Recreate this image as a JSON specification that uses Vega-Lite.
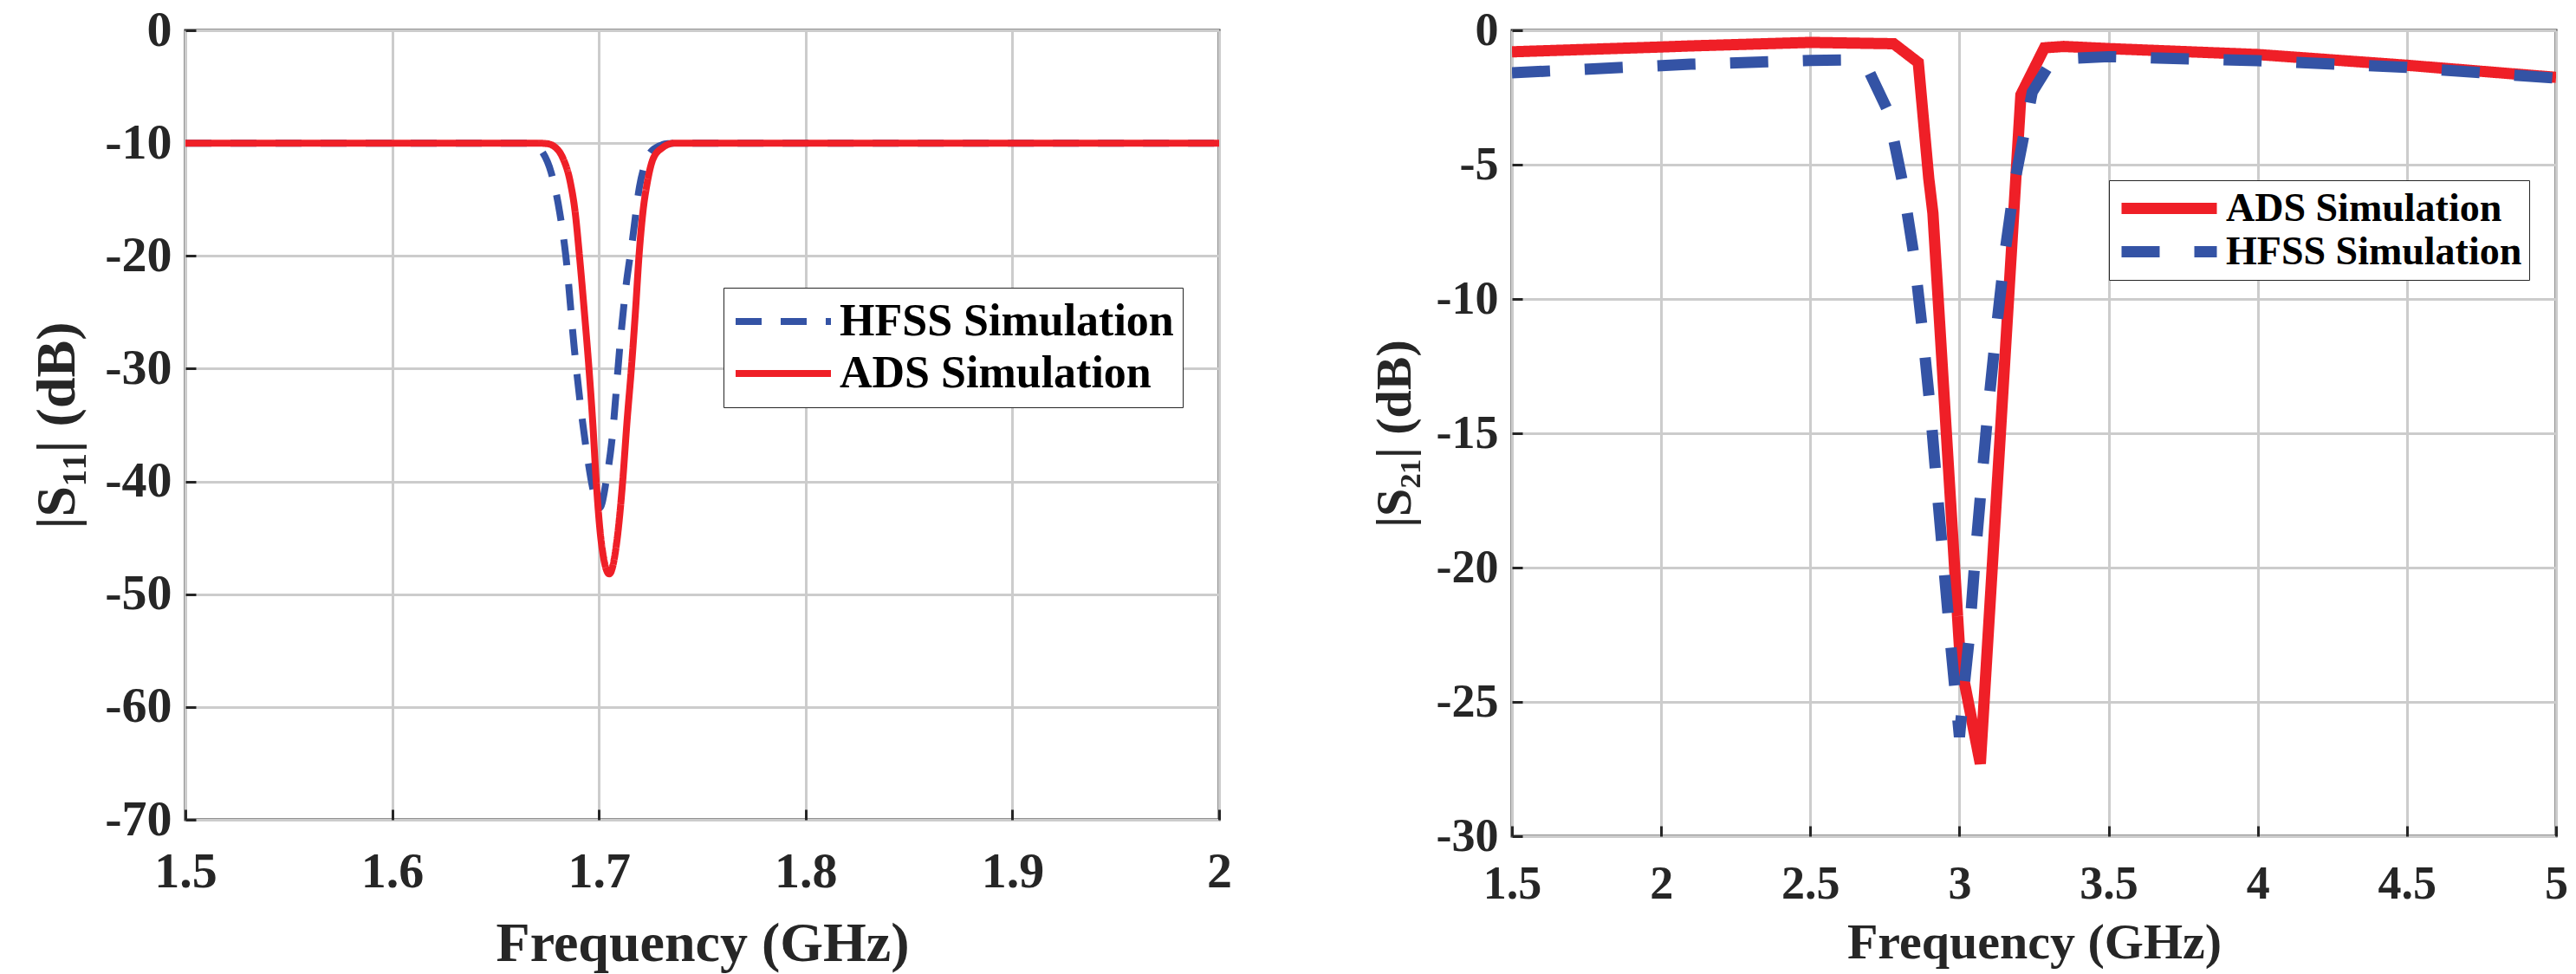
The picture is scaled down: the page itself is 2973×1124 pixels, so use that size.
{
  "$schema": "https://vega.github.io/schema/vega-lite/v6.json",
  "background": "white",
  "padding": {"left": 33, "top": 4, "right": 10, "bottom": 5},
  "spacing": 156,
  "config": {
    "font": "Liberation Serif",
    "view": {"stroke": "#262626", "strokeWidth": 3},
    "axis": {
      "labelFont": "Liberation Serif", "labelFontWeight": "bold", "labelColor": "#262626",
      "titleFont": "Liberation Serif", "titleFontWeight": "bold", "titleColor": "#262626",
      "gridColor": "#cccccc", "gridWidth": 3, "gridOpacity": 1,
      "domain": false, "tickColor": "#262626", "tickWidth": 3, "tickSize": -12,
      "labelExpr": "replace(datum.label, '−', '-')"
    }
  },
  "resolve": {
    "scale": {"color": "independent", "strokeDash": "independent"},
    "legend": {"color": "independent", "strokeDash": "independent"}
  },
  "hconcat": [
    {
      "width": 1193,
      "height": 911,
      "data": {"values": [
        {"f": 1.5, "v": -10, "s": "HFSS Simulation"},
        {"f": 1.6, "v": -10, "s": "HFSS Simulation"},
        {"f": 1.665, "v": -10, "s": "HFSS Simulation"},
        {"f": 1.669, "v": -10.2, "s": "HFSS Simulation"},
        {"f": 1.6727, "v": -10.8, "s": "HFSS Simulation"},
        {"f": 1.6769, "v": -12.6, "s": "HFSS Simulation"},
        {"f": 1.681, "v": -16.1, "s": "HFSS Simulation"},
        {"f": 1.684, "v": -20, "s": "HFSS Simulation"},
        {"f": 1.6882, "v": -28.4, "s": "HFSS Simulation"},
        {"f": 1.691, "v": -33.1, "s": "HFSS Simulation"},
        {"f": 1.6945, "v": -37.9, "s": "HFSS Simulation"},
        {"f": 1.6975, "v": -41, "s": "HFSS Simulation"},
        {"f": 1.7005, "v": -42.3, "s": "HFSS Simulation"},
        {"f": 1.7035, "v": -40, "s": "HFSS Simulation"},
        {"f": 1.7062, "v": -36.5, "s": "HFSS Simulation"},
        {"f": 1.7104, "v": -27.5, "s": "HFSS Simulation"},
        {"f": 1.7129, "v": -23, "s": "HFSS Simulation"},
        {"f": 1.7163, "v": -18.5, "s": "HFSS Simulation"},
        {"f": 1.7196, "v": -13.9, "s": "HFSS Simulation"},
        {"f": 1.723, "v": -11.5, "s": "HFSS Simulation"},
        {"f": 1.7267, "v": -10.5, "s": "HFSS Simulation"},
        {"f": 1.7334, "v": -10.05, "s": "HFSS Simulation"},
        {"f": 1.74, "v": -10, "s": "HFSS Simulation"},
        {"f": 1.8, "v": -10, "s": "HFSS Simulation"},
        {"f": 2.0, "v": -10, "s": "HFSS Simulation"},
        {"f": 1.5, "v": -10, "s": "ADS Simulation"},
        {"f": 1.6, "v": -10, "s": "ADS Simulation"},
        {"f": 1.67, "v": -10, "s": "ADS Simulation"},
        {"f": 1.6749, "v": -10.05, "s": "ADS Simulation"},
        {"f": 1.6791, "v": -10.4, "s": "ADS Simulation"},
        {"f": 1.6825, "v": -11.3, "s": "ADS Simulation"},
        {"f": 1.6862, "v": -13.5, "s": "ADS Simulation"},
        {"f": 1.6885, "v": -16.1, "s": "ADS Simulation"},
        {"f": 1.6906, "v": -20, "s": "ADS Simulation"},
        {"f": 1.6928, "v": -24.6, "s": "ADS Simulation"},
        {"f": 1.6952, "v": -30, "s": "ADS Simulation"},
        {"f": 1.697, "v": -34.7, "s": "ADS Simulation"},
        {"f": 1.6987, "v": -40, "s": "ADS Simulation"},
        {"f": 1.7011, "v": -45.3, "s": "ADS Simulation"},
        {"f": 1.705, "v": -48.2, "s": "ADS Simulation"},
        {"f": 1.7087, "v": -45.3, "s": "ADS Simulation"},
        {"f": 1.7115, "v": -40, "s": "ADS Simulation"},
        {"f": 1.7136, "v": -34.7, "s": "ADS Simulation"},
        {"f": 1.7157, "v": -30, "s": "ADS Simulation"},
        {"f": 1.7178, "v": -24.6, "s": "ADS Simulation"},
        {"f": 1.7194, "v": -20, "s": "ADS Simulation"},
        {"f": 1.7213, "v": -16.1, "s": "ADS Simulation"},
        {"f": 1.7234, "v": -13.5, "s": "ADS Simulation"},
        {"f": 1.7262, "v": -11.4, "s": "ADS Simulation"},
        {"f": 1.7308, "v": -10.4, "s": "ADS Simulation"},
        {"f": 1.7364, "v": -10, "s": "ADS Simulation"},
        {"f": 1.8, "v": -10, "s": "ADS Simulation"},
        {"f": 2.0, "v": -10, "s": "ADS Simulation"}
      ]},
      "mark": {"type": "line", "strokeWidth": 8, "interpolate": "monotone", "clip": true},
      "encoding": {
        "x": {
          "field": "f", "type": "quantitative",
          "scale": {"domain": [1.5, 2], "nice": false, "zero": false},
          "axis": {"title": "Frequency (GHz)", "values": [1.5, 1.6, 1.7, 1.8, 1.9, 2], "format": "~g",
            "labelFontSize": 58, "titleFontSize": 64, "labelPadding": 43, "titlePadding": 22, "labelFlush": false}
        },
        "y": {
          "field": "v", "type": "quantitative",
          "scale": {"domain": [-70, 0], "nice": false, "zero": false},
          "axis": {"title": "|S₁₁| (dB)", "values": [-70, -60, -50, -40, -30, -20, -10, 0],
            "labelFontSize": 58, "titleFontSize": 64, "labelPadding": 28, "titlePadding": 22}
        },
        "color": {
          "field": "s", "type": "nominal",
          "scale": {"domain": ["HFSS Simulation", "ADS Simulation"], "range": ["#3453a5", "#ef1f27"]},
          "legend": {"title": null, "orient": "none", "legendX": 621, "legendY": 297,
            "strokeColor": "#262626", "fillColor": "white", "padding": 10, "clipHeight": 58,
            "labelFont": "Liberation Serif", "labelFontWeight": "bold", "labelFontSize": 52, "labelColor": "black",
            "symbolType": "stroke", "symbolSize": 12100, "symbolStrokeWidth": 8, "labelOffset": 6, "rowPadding": 2, "labelLimit": 0}
        },
        "strokeDash": {
          "field": "s", "type": "nominal",
          "scale": {"domain": ["HFSS Simulation", "ADS Simulation"], "range": [[30, 22], [1, 0]]},
          "legend": {"title": null, "orient": "none", "legendX": 621, "legendY": 297,
            "strokeColor": "#262626", "fillColor": "white", "padding": 10, "clipHeight": 58,
            "labelFont": "Liberation Serif", "labelFontWeight": "bold", "labelFontSize": 52, "labelColor": "black",
            "symbolType": "stroke", "symbolSize": 12100, "symbolStrokeWidth": 8, "labelOffset": 6, "rowPadding": 2, "labelLimit": 0}
        }
      }
    },
    {
      "width": 1205,
      "height": 930,
      "data": {"values": [
        {"f": 1.5, "v": -0.8, "s": "ADS Simulation"},
        {"f": 2.0, "v": -0.62, "s": "ADS Simulation"},
        {"f": 2.1, "v": -0.58, "s": "ADS Simulation"},
        {"f": 2.5, "v": -0.45, "s": "ADS Simulation"},
        {"f": 2.78, "v": -0.5, "s": "ADS Simulation"},
        {"f": 2.862, "v": -1.2, "s": "ADS Simulation"},
        {"f": 2.897, "v": -5.5, "s": "ADS Simulation"},
        {"f": 2.911, "v": -6.8, "s": "ADS Simulation"},
        {"f": 3.003, "v": -23.5, "s": "ADS Simulation"},
        {"f": 3.07, "v": -27.3, "s": "ADS Simulation"},
        {"f": 3.206, "v": -2.4, "s": "ADS Simulation"},
        {"f": 3.285, "v": -0.65, "s": "ADS Simulation"},
        {"f": 3.35, "v": -0.6, "s": "ADS Simulation"},
        {"f": 3.5, "v": -0.68, "s": "ADS Simulation"},
        {"f": 4.0, "v": -0.9, "s": "ADS Simulation"},
        {"f": 4.5, "v": -1.3, "s": "ADS Simulation"},
        {"f": 5.0, "v": -1.75, "s": "ADS Simulation"},
        {"f": 1.5, "v": -1.58, "s": "HFSS Simulation"},
        {"f": 2.1, "v": -1.26, "s": "HFSS Simulation"},
        {"f": 2.5, "v": -1.12, "s": "HFSS Simulation"},
        {"f": 2.654, "v": -1.1, "s": "HFSS Simulation"},
        {"f": 2.7, "v": -1.6, "s": "HFSS Simulation"},
        {"f": 2.76, "v": -3.0, "s": "HFSS Simulation"},
        {"f": 2.808, "v": -5.6, "s": "HFSS Simulation"},
        {"f": 2.849, "v": -8.5, "s": "HFSS Simulation"},
        {"f": 2.878, "v": -11.4, "s": "HFSS Simulation"},
        {"f": 2.904, "v": -14.3, "s": "HFSS Simulation"},
        {"f": 2.925, "v": -17.1, "s": "HFSS Simulation"},
        {"f": 2.948, "v": -20, "s": "HFSS Simulation"},
        {"f": 2.971, "v": -22.9, "s": "HFSS Simulation"},
        {"f": 2.995, "v": -25.7, "s": "HFSS Simulation"},
        {"f": 3.0, "v": -26.3, "s": "HFSS Simulation"},
        {"f": 3.015, "v": -24.5, "s": "HFSS Simulation"},
        {"f": 3.032, "v": -22.7, "s": "HFSS Simulation"},
        {"f": 3.052, "v": -19.7, "s": "HFSS Simulation"},
        {"f": 3.073, "v": -17, "s": "HFSS Simulation"},
        {"f": 3.096, "v": -14.1, "s": "HFSS Simulation"},
        {"f": 3.122, "v": -11.3, "s": "HFSS Simulation"},
        {"f": 3.151, "v": -8.4, "s": "HFSS Simulation"},
        {"f": 3.186, "v": -5.6, "s": "HFSS Simulation"},
        {"f": 3.244, "v": -2.3, "s": "HFSS Simulation"},
        {"f": 3.3, "v": -1.3, "s": "HFSS Simulation"},
        {"f": 3.37, "v": -1.05, "s": "HFSS Simulation"},
        {"f": 3.5, "v": -0.98, "s": "HFSS Simulation"},
        {"f": 4.0, "v": -1.13, "s": "HFSS Simulation"},
        {"f": 4.5, "v": -1.38, "s": "HFSS Simulation"},
        {"f": 5.0, "v": -1.78, "s": "HFSS Simulation"}
      ]},
      "mark": {"type": "line", "strokeWidth": 13, "clip": true},
      "encoding": {
        "x": {
          "field": "f", "type": "quantitative",
          "scale": {"domain": [1.5, 5], "nice": false, "zero": false},
          "axis": {"title": "Frequency (GHz)", "values": [1.5, 2, 2.5, 3, 3.5, 4, 4.5, 5], "format": "~g",
            "labelFontSize": 54, "titleFontSize": 58, "labelPadding": 40, "titlePadding": 12, "labelFlush": false}
        },
        "y": {
          "field": "v", "type": "quantitative",
          "scale": {"domain": [-30, 0], "nice": false, "zero": false},
          "axis": {"title": "|S₂₁| (dB)", "values": [-30, -25, -20, -15, -10, -5, 0],
            "labelFontSize": 54, "titleFontSize": 58, "labelPadding": 28, "titlePadding": 18}
        },
        "color": {
          "field": "s", "type": "nominal",
          "scale": {"domain": ["ADS Simulation", "HFSS Simulation"], "range": ["#ef1f27", "#3453a5"]},
          "legend": {"title": null, "orient": "none", "legendX": 689, "legendY": 173,
            "strokeColor": "#262626", "fillColor": "white", "padding": 8, "clipHeight": 49,
            "labelFont": "Liberation Serif", "labelFontWeight": "bold", "labelFontSize": 46, "labelColor": "black",
            "symbolType": "stroke", "symbolSize": 12100, "symbolStrokeWidth": 13, "labelOffset": 4, "rowPadding": 1, "labelLimit": 0}
        },
        "strokeDash": {
          "field": "s", "type": "nominal",
          "scale": {"domain": ["ADS Simulation", "HFSS Simulation"], "range": [[1, 0], [44, 40]]},
          "legend": {"title": null, "orient": "none", "legendX": 689, "legendY": 173,
            "strokeColor": "#262626", "fillColor": "white", "padding": 8, "clipHeight": 49,
            "labelFont": "Liberation Serif", "labelFontWeight": "bold", "labelFontSize": 46, "labelColor": "black",
            "symbolType": "stroke", "symbolSize": 12100, "symbolStrokeWidth": 13, "labelOffset": 4, "rowPadding": 1, "labelLimit": 0}
        }
      }
    }
  ]
}
